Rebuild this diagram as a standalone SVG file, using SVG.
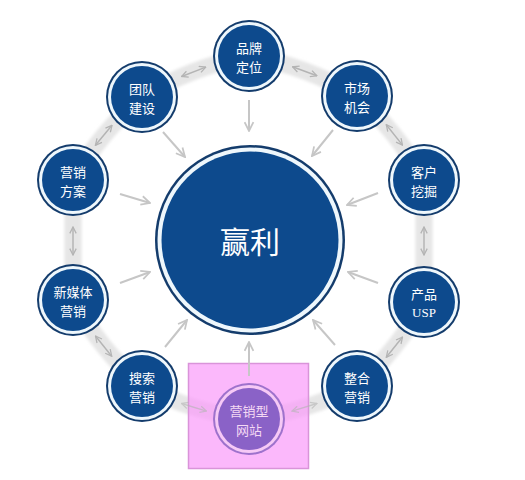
<svg xmlns="http://www.w3.org/2000/svg" width="525" height="480" viewBox="0 0 525 480">
<style>
.lbl{font-family:"Noto Sans CJK SC","Liberation Sans",sans-serif;font-size:13px;fill:#ffffff;text-anchor:middle;dominant-baseline:central}
.big{font-family:"Noto Sans CJK SC","Liberation Sans",sans-serif;font-size:30px;fill:#ffffff;text-anchor:middle;dominant-baseline:central}
.ring{fill:#143c6c}
.gap{fill:#eef7fc}
.core{fill:#0d4a8d}
.toc{stroke:#c6c6c6;stroke-width:2;fill:none;marker-end:url(#ah)}
.dbl{stroke:#b4b4b4;stroke-width:1.5;fill:none;marker-start:url(#ah2);marker-end:url(#ah2)}
</style>
<defs>
<marker id="ah" markerUnits="userSpaceOnUse" viewBox="0 0 10 10" refX="9" refY="5" markerWidth="11" markerHeight="11" orient="auto">
<path d="M1,1 L9,5 L1,9" fill="none" stroke="#c6c6c6" stroke-width="1.6"/>
</marker>
<marker id="ah2" markerUnits="userSpaceOnUse" viewBox="0 0 10 10" refX="9" refY="5" markerWidth="8" markerHeight="8" orient="auto-start-reverse">
<path d="M1,1 L9,5 L1,9" fill="none" stroke="#b4b4b4" stroke-width="1.6"/>
</marker>
<filter id="bl" x="-10%" y="-10%" width="120%" height="120%"><feGaussianBlur stdDeviation="1.5"/></filter>
</defs>
<rect width="525" height="480" fill="#ffffff"/>
<g id="band">
<path d="M249,56 A316,316 0 0 1 357,96 A316,316 0 0 1 424,180 L424,302 A316,316 0 0 1 357,386 A316,316 0 0 1 249,419 A316,316 0 0 1 142,386 A316,316 0 0 1 73,300 L73,180 A316,316 0 0 1 142,97 A316,316 0 0 1 249,56 Z" fill="none" stroke="#e6e6e6" stroke-width="17" stroke-linejoin="round" filter="url(#bl)"/>
</g>
<g id="connectors">
<line class="dbl" x1="292.5" y1="66.8" x2="316.9" y2="75.8"/>
<line class="dbl" x1="386.3" y1="124.7" x2="402.5" y2="145.1"/>
<line class="dbl" x1="424" y1="227" x2="424" y2="255"/>
<line class="dbl" x1="402.5" y1="337" x2="386.3" y2="357.3"/>
<line class="dbl" x1="95.5" y1="336" x2="111.7" y2="356.2"/>
<line class="dbl" x1="73" y1="227" x2="73" y2="255"/>
<line class="dbl" x1="95.4" y1="145.3" x2="112" y2="125.3"/>
<line class="dbl" x1="181.6" y1="76.5" x2="205.8" y2="67.1"/>
<line class="toc" x1="249" y1="100" x2="249" y2="131"/>
<line class="toc" x1="333" y1="130" x2="312" y2="156"/>
<line class="toc" x1="378" y1="193" x2="347" y2="205"/>
<line class="toc" x1="378" y1="283" x2="348" y2="272"/>
<line class="toc" x1="335" y1="345" x2="313" y2="320"/>
<line class="toc" x1="165" y1="347" x2="187" y2="320"/>
<line class="toc" x1="120" y1="283" x2="150" y2="272"/>
<line class="toc" x1="120" y1="194" x2="150" y2="203"/>
<line class="toc" x1="163" y1="132" x2="185" y2="157"/>
</g>
<g id="highlight">
<rect x="188.5" y="363.5" width="120" height="105" fill="#f99cf9" fill-opacity="0.72" stroke="#d994d9" stroke-width="1.5"/>
<line class="dbl" x1="316.9" y1="403.5" x2="292" y2="411.1" opacity="0.6"/>
<line class="dbl" x1="206.4" y1="411.1" x2="181.6" y2="403.5" opacity="0.6"/>
<line class="toc" x1="249" y1="376" x2="249" y2="342"/>
</g>
<g id="center">
<circle cx="250" cy="240" r="95" class="ring"/>
<circle cx="250" cy="240" r="92.5" class="gap"/>
<circle cx="250" cy="240" r="88.5" class="core"/>
<text class="big" x="250" y="240">赢利</text>
</g>
<g id="n1"><circle cx="249" cy="56" r="36" class="ring"/><circle cx="249" cy="56" r="34" class="gap"/><circle cx="249" cy="56" r="31" class="core"/><text class="lbl" x="249" y="47">品牌</text><text class="lbl" x="249" y="66">定位</text></g>
<g id="n2"><circle cx="357" cy="96" r="36" class="ring"/><circle cx="357" cy="96" r="34" class="gap"/><circle cx="357" cy="96" r="31" class="core"/><text class="lbl" x="357" y="87">市场</text><text class="lbl" x="357" y="106">机会</text></g>
<g id="n3"><circle cx="424" cy="180" r="36" class="ring"/><circle cx="424" cy="180" r="34" class="gap"/><circle cx="424" cy="180" r="31" class="core"/><text class="lbl" x="424" y="171">客户</text><text class="lbl" x="424" y="190">挖掘</text></g>
<g id="n4"><circle cx="424" cy="302" r="36" class="ring"/><circle cx="424" cy="302" r="34" class="gap"/><circle cx="424" cy="302" r="31" class="core"/><text class="lbl" x="424" y="293">产品</text><text class="lbl" x="424" y="312" style="font-family:'Liberation Serif',serif;font-size:13px">USP</text></g>
<g id="n5"><circle cx="357" cy="386" r="36" class="ring"/><circle cx="357" cy="386" r="34" class="gap"/><circle cx="357" cy="386" r="31" class="core"/><text class="lbl" x="357" y="377">整合</text><text class="lbl" x="357" y="396">营销</text></g>
<g id="n6"><circle cx="249" cy="419" r="36" fill="#9e72cc"/><circle cx="249" cy="419" r="34" fill="#f6c9f6"/><circle cx="249" cy="419" r="31" fill="#8a62c7"/><text class="lbl" x="249" y="410" style="fill:#f4d9f4">营销型</text><text class="lbl" x="249" y="429" style="fill:#f4d9f4">网站</text></g>
<g id="n7"><circle cx="142" cy="386" r="36" class="ring"/><circle cx="142" cy="386" r="34" class="gap"/><circle cx="142" cy="386" r="31" class="core"/><text class="lbl" x="142" y="377">搜索</text><text class="lbl" x="142" y="396">营销</text></g>
<g id="n8"><circle cx="73" cy="300" r="36" class="ring"/><circle cx="73" cy="300" r="34" class="gap"/><circle cx="73" cy="300" r="31" class="core"/><text class="lbl" x="73" y="291">新媒体</text><text class="lbl" x="73" y="310">营销</text></g>
<g id="n9"><circle cx="73" cy="180" r="36" class="ring"/><circle cx="73" cy="180" r="34" class="gap"/><circle cx="73" cy="180" r="31" class="core"/><text class="lbl" x="73" y="171">营销</text><text class="lbl" x="73" y="190">方案</text></g>
<g id="n10"><circle cx="142" cy="97" r="36" class="ring"/><circle cx="142" cy="97" r="34" class="gap"/><circle cx="142" cy="97" r="31" class="core"/><text class="lbl" x="142" y="88">团队</text><text class="lbl" x="142" y="107">建设</text></g>
</svg>
